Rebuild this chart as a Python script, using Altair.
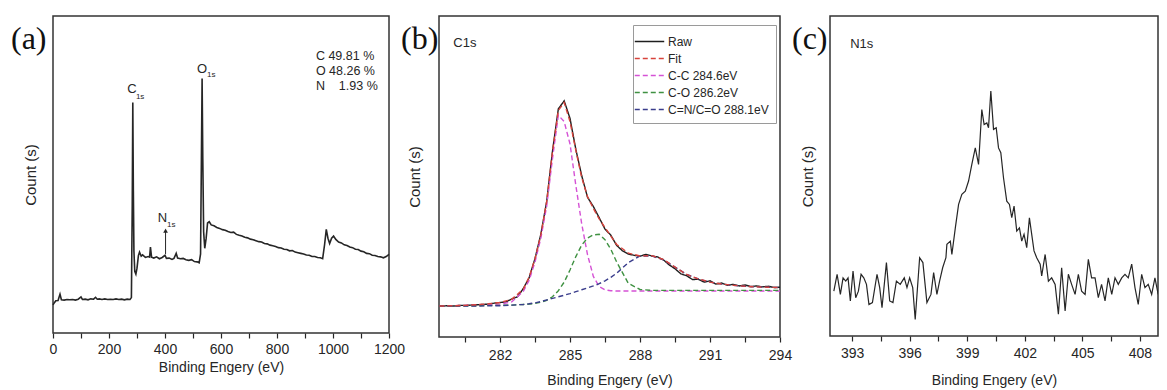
import altair as alt
import pandas as pd

SANS = "Liberation Sans"
SERIF = "Liberation Serif"
INK = "#262626"
NB = "\u00a0"

# ---------------- panel (a): survey spectrum ----------------
a_energy = [0, 5, 10, 18, 25, 30, 40, 50, 60, 70, 80, 90, 100, 105, 115, 125, 135, 145, 152, 158,
            165, 175, 185, 195, 205, 215, 225, 235, 245, 255, 265, 275, 280, 283, 285, 287, 289, 292,
            296, 300, 305, 309, 315, 320, 330, 340, 345, 348, 352, 360, 370, 380, 390, 400, 405, 415,
            425, 432, 440, 445, 455, 465, 475, 485, 495, 505, 515, 522, 527, 530, 532.5, 535, 538, 542,
            547, 552, 558, 565, 575, 585, 595, 605, 615, 625, 635, 645, 655, 665, 675, 685, 695, 705,
            715, 725, 735, 745, 755, 765, 775, 785, 795, 805, 815, 825, 835, 845, 855, 865, 875, 885,
            895, 905, 915, 925, 935, 945, 955, 963, 970, 976, 982, 988, 995, 1002, 1010, 1020, 1030,
            1040, 1050, 1060, 1070, 1080, 1090, 1100, 1110, 1120, 1130, 1140, 1150, 1160, 1170, 1180,
            1190, 1200]
a_counts = [8.9, 9.6, 10.2, 10.3, 12.3, 10.5, 10.4, 10.6, 10.5, 10.6, 10.4, 10.7, 11.4, 10.6, 10.7,
            10.5, 10.8, 10.7, 11.3, 10.7, 10.8, 10.6, 10.8, 10.6, 10.7, 10.6, 10.8, 10.6, 10.7, 10.5,
            10.7, 10.6, 11.2, 40.0, 72.9, 45.0, 26.0, 19.5, 18.6, 20.5, 24.5, 25.6, 24.3, 24.7, 23.9,
            24.2, 24.0, 27.2, 24.0, 23.7, 24.1, 23.5, 23.9, 24.6, 23.6, 23.7, 23.3, 23.6, 25.2, 23.7,
            23.5, 23.6, 23.2, 23.0, 23.2, 22.6, 22.5, 22.2, 25.0, 55.0, 80.5, 55.0, 32.0, 26.8, 30.0,
            34.8, 35.2, 34.2, 33.9, 33.4, 33.1, 32.7, 32.5, 32.1, 31.8, 31.9, 31.2, 30.9, 30.7, 30.3,
            30.1, 29.7, 29.5, 29.2, 28.9, 28.8, 28.3, 28.2, 27.8, 27.6, 27.4, 27.0, 26.9, 26.5, 26.4,
            26.0, 26.1, 25.6, 25.4, 25.2, 25.0, 24.7, 24.6, 24.2, 24.2, 23.9, 23.8, 23.5, 28.0, 32.8,
            30.0, 28.3, 30.0, 30.7, 29.6, 28.8, 28.5, 27.9, 27.7, 27.2, 27.0, 26.5, 26.4, 25.9, 25.7,
            25.2, 25.1, 24.6, 24.5, 24.2, 24.1, 23.8, 24.2, 24.9]
a_peak_text = ["C", "O", "N"]
a_peak_e = [282, 532, 391]
a_peak_v = [77.2, 83.5, 36.4]
a_sub_text = ["1s", "1s", "1s"]
a_sub_e = [296, 550, 407]
a_sub_v = [74.7, 81.6, 34.2]
a_comp_text = ["C 49.81 %", "O 48.26 %", "N" + NB * 4 + "1.93 %"]
a_comp_e = [939, 939, 939]
a_comp_v = [87.7, 82.9, 78.2]
a_arrow_e = [402]
a_arrow_from = [25.0]
a_arrow_to = [32.4]
a_ticks = [0, 100, 200, 300, 400, 500, 600, 700, 800, 900, 1000, 1100, 1200]

# ---------------- panel (b): C1s ----------------
b_raw_e = [279.4, 279.75, 280.0, 280.25, 280.5, 280.75, 281.0, 281.25, 281.5, 281.75, 282.0, 282.25,
           282.5, 282.75, 283.0, 283.25, 283.5, 283.75, 284.0, 284.25, 284.5, 284.75, 285.0, 285.25,
           285.5, 285.75, 286.0, 286.25, 286.5, 286.75, 287.0, 287.25, 287.5, 287.75, 288.0, 288.25,
           288.5, 288.75, 289.0, 289.25, 289.5, 289.75, 290.0, 290.25, 290.5, 290.75, 291.0, 291.25,
           291.5, 291.75, 292.0, 292.25, 292.5, 292.75, 293.0, 293.25, 293.5, 293.75, 294.0]
b_raw = [9.6, 9.8, 9.7, 9.9, 9.9, 10.0, 10.1, 10.2, 10.3, 10.6, 10.8, 11.0, 11.9, 12.6, 15.2, 18.6,
         24.6, 32.2, 42.4, 58.3, 71.5, 74.0, 68.5, 58.8, 50.6, 43.8, 40.9, 37.4, 33.8, 31.9, 28.7,
         27.0, 26.0, 25.6, 25.3, 25.9, 25.4, 25.1, 24.2, 22.6, 21.4, 19.8, 19.2, 18.0, 18.1, 17.2,
         17.6, 16.6, 16.9, 16.2, 16.5, 16.0, 16.3, 15.8, 16.0, 15.7, 15.9, 15.5, 15.6]
b_fit_e = [279.4, 280.0, 280.5, 281.0, 281.5, 282.0, 282.5, 283.0, 283.25, 283.5, 283.75, 284.0,
           284.25, 284.5, 284.75, 285.0, 285.25, 285.5, 285.75, 286.0, 286.25, 286.5, 286.75, 287.0,
           287.5, 288.0, 288.5, 289.0, 289.5, 290.0, 290.5, 291.0, 291.5, 292.0, 292.5, 293.0,
           293.5, 294.0]
b_fit = [9.7, 9.8, 9.9, 10.1, 10.4, 10.8, 11.8, 15.0, 18.8, 24.5, 32.0, 42.5, 58.0, 71.0, 73.5,
         67.5, 58.5, 50.0, 44.0, 40.3, 37.0, 34.3, 31.6, 29.0, 26.3, 25.4, 25.5, 24.3, 21.9, 19.6,
         18.2, 17.2, 16.6, 16.2, 15.9, 15.7, 15.6, 15.5]
b_cc = [9.7, 9.8, 9.9, 10.0, 10.1, 10.3, 11.0, 14.3, 17.8, 23.5, 31.0, 41.0, 56.0, 69.5, 67.5,
        60.5, 47.5, 35.5, 25.8, 19.0, 15.8, 14.8, 14.5, 14.4, 14.4, 14.4, 14.4, 14.4, 14.4, 14.4,
        14.4, 14.4, 14.4, 14.4, 14.4, 14.4, 14.4, 14.4]
b_co = [9.7, 9.7, 9.8, 9.8, 9.9, 9.9, 10.0, 10.2, 10.3, 10.5, 10.9, 11.5, 12.6, 14.5, 17.2, 21.0,
        25.2, 28.8, 31.0, 32.0, 32.2, 30.5, 27.5, 23.5, 16.8, 14.9, 14.6, 14.6, 14.6, 14.6, 14.6,
        14.6, 14.6, 14.6, 14.6, 14.6, 14.6, 14.6]
b_cn = [9.7, 9.7, 9.7, 9.7, 9.8, 9.8, 10.0, 10.2, 10.4, 10.7, 11.1, 11.6, 12.1, 12.6, 13.1, 13.6,
        14.2, 14.8, 15.4, 16.0, 16.7, 17.6, 18.7, 20.0, 23.3, 25.4, 25.4, 24.2, 21.9, 19.6, 18.2,
        17.2, 16.6, 16.2, 15.9, 15.7, 15.6, 15.5]
b_series = ["Raw", "Fit", "C-C 284.6eV", "C-O 286.2eV", "C=N/C=O 288.1eV"]
b_colors = ["#1e1e1e", "#d8433c", "#d552d5", "#3f9142", "#3a3d8c"]
b_dashes = [[1, 0], [5, 3], [5, 3], [5, 3], [5, 3]]
b_ticks = [280.5, 282, 283.5, 285, 286.5, 288, 289.5, 291, 292.5, 294]
b_tag_text = ["C1s"]
b_tag_e = [280.0]
b_tag_v = [92.2]

# ---------------- panel (c): N1s ----------------
c_energy = [392.05, 392.22, 392.39, 392.53, 392.67, 392.79, 392.91, 393.05, 393.19, 393.33, 393.47,
            393.61, 393.75, 393.88, 394.06, 394.30, 394.44, 394.56, 394.79, 394.96, 395.13, 395.31,
            395.51, 395.72, 395.86, 396.00, 396.16, 396.29, 396.52, 396.69, 396.90, 397.11, 397.25,
            397.42, 397.56, 397.72, 397.89, 397.94, 398.12, 398.20, 398.38, 398.55, 398.72, 398.90,
            399.07, 399.24, 399.42, 399.59, 399.76, 399.88, 400.02, 400.11, 400.23, 400.37, 400.51,
            400.63, 400.75, 400.89, 401.06, 401.20, 401.32, 401.44, 401.58, 401.72, 401.84, 401.96,
            402.10, 402.24, 402.36, 402.48, 402.62, 402.80, 402.88, 403.06, 403.23, 403.40, 403.58,
            403.75, 403.92, 404.10, 404.27, 404.44, 404.62, 404.79, 404.96, 405.14, 405.31, 405.48,
            405.66, 405.83, 406.00, 406.18, 406.35, 406.53, 406.70, 406.87, 407.05, 407.22, 407.39,
            407.57, 407.74, 407.91, 408.09, 408.26, 408.43, 408.61, 408.78, 408.95, 409.13, 409.30]
c_counts = [13.8, 19.0, 12.8, 17.9, 16.9, 17.9, 10.8, 20.0, 11.8, 13.8, 19.0, 17.9, 15.9, 9.7, 10.3,
            19.0, 14.9, 8.7, 22.6, 10.8, 10.3, 16.9, 15.9, 17.9, 14.9, 17.9, 14.9, 5.1, 24.1, 22.6,
            10.3, 12.8, 19.5, 12.8, 16.9, 21.0, 24.1, 28.2, 29.2, 25.1, 33.3, 40.5, 43.6, 44.6, 47.7,
            52.8, 57.9, 52.8, 69.7, 65.1, 65.6, 64.1, 75.4, 63.6, 64.1, 57.9, 56.4, 48.7, 41.5, 40.5,
            36.4, 40.0, 32.3, 33.3, 29.2, 31.3, 27.2, 36.4, 31.3, 26.2, 24.1, 22.1, 18.5, 25.1, 16.9,
            17.9, 15.9, 6.7, 21.0, 7.7, 19.0, 15.9, 12.8, 19.0, 13.8, 12.8, 23.6, 17.9, 17.9, 11.8,
            15.9, 10.8, 17.9, 12.8, 17.9, 15.9, 17.9, 19.0, 17.9, 22.1, 14.9, 9.7, 19.0, 14.9, 15.9,
            12.8, 17.9, 12.8, 16.9, 14.9]
c_ticks = [393, 394.5, 396, 397.5, 399, 400.5, 402, 403.5, 405, 406.5, 408]
c_tag_text = ["N1s"]
c_tag_e = [392.9]
c_tag_v = [89.8]

panel_tags = ["(a)", "(b)", "(c)"]


def x_axis(values, expr, label_pad, title_pad, fmt=None):
    kw = dict(values=values, labelExpr=expr, title="Binding Engery (eV)",
              titleFont=SANS, titleFontSize=14, titleFontWeight="normal", titleColor=INK,
              titlePadding=title_pad, labelFont=SANS, labelFontSize=14, labelColor=INK,
              labelPadding=label_pad, labelFlush=False, labelOverlap=False,
              tickSize=5, tickColor=INK, tickWidth=1.2, domain=False, grid=False)
    if fmt:
        kw["format"] = fmt
    return alt.Axis(**kw)


def y_axis(pad):
    return alt.Axis(title="Count (s)", labels=False, ticks=False, domain=False, grid=False,
                    titleFont=SANS, titleFontSize=15, titleFontWeight="normal", titleColor=INK,
                    titlePadding=pad)


def tag_layer(label, dx):
    return alt.Chart(pd.DataFrame({"t": [label]})).mark_text(
        font=SERIF, fontSize=32, align="left", baseline="middle", color="#111"
    ).encode(x=alt.value(dx), y=alt.value(23), text="t:N")


# ---- panel a
df_a = pd.DataFrame({"e": a_energy, "v": a_counts})
xa = alt.X("e:Q", scale=alt.Scale(domain=[0, 1200], nice=False, zero=False),
           axis=x_axis(a_ticks, "datum.value % 200 == 0 ? datum.label : ''", 4, 4, "d"))
ya = alt.Y("v:Q", scale=alt.Scale(domain=[0, 100.3], nice=False, zero=False), axis=y_axis(15))

line_a = alt.Chart(df_a).mark_line(color=INK, strokeWidth=1.6).encode(x=xa, y=ya)
peak_a = alt.Chart(pd.DataFrame({"e": a_peak_e, "v": a_peak_v, "t": a_peak_text})).mark_text(
    font=SANS, fontSize=13, color=INK, align="center", baseline="middle").encode(x=xa, y=ya, text="t:N")
sub_a = alt.Chart(pd.DataFrame({"e": a_sub_e, "v": a_sub_v, "t": a_sub_text})).mark_text(
    font=SANS, fontSize=8, color=INK, align="left", baseline="middle").encode(x=xa, y=ya, text="t:N")
comp_a = alt.Chart(pd.DataFrame({"e": a_comp_e, "v": a_comp_v, "t": a_comp_text})).mark_text(
    font=SANS, fontSize=12.5, color=INK, align="left", baseline="middle").encode(x=xa, y=ya, text="t:N")
arrow_df = pd.DataFrame({"e": a_arrow_e, "v": a_arrow_from, "v2": a_arrow_to})
arrow_line = alt.Chart(arrow_df).mark_rule(color=INK, strokeWidth=1).encode(x=xa, y=ya, y2="v2:Q")
arrow_head = alt.Chart(pd.DataFrame({"e": a_arrow_e, "v": a_arrow_to})).mark_point(
    shape="triangle-up", filled=True, size=22, color=INK, opacity=1).encode(x=xa, y=ya)

panel_a = alt.layer(line_a, arrow_line, arrow_head, peak_a, sub_a, comp_a,
                    tag_layer(panel_tags[0], -42)).properties(width=336, height=317)

# ---- panel b
rows = []
for e, v in zip(b_raw_e, b_raw):
    rows.append({"e": e, "v": v, "s": b_series[0]})
for name, vals in [(b_series[2], b_cc), (b_series[3], b_co), (b_series[4], b_cn), (b_series[1], b_fit)]:
    for e, v in zip(b_fit_e, vals):
        rows.append({"e": e, "v": v, "s": name})
df_b = pd.DataFrame(rows)

xb = alt.X("e:Q", scale=alt.Scale(domain=[279.385, 294], nice=False, zero=False),
           axis=x_axis(b_ticks, "abs((datum.value - 282) % 3) < 0.01 ? datum.label : ''", 6, 11))
yb = alt.Y("v:Q", scale=alt.Scale(domain=[0, 100.6], nice=False, zero=False), axis=y_axis(17))

legend_b = alt.Legend(title=None, orient="none", legendX=194, legendY=9,
                      symbolType="M-1.7,0H1.7", symbolSize=300, symbolStrokeWidth=1.5,
                      labelFont=SANS, labelFontSize=12, labelColor=INK, labelOffset=9,
                      rowPadding=1.0, padding=7, strokeColor="#9a9a9a", fillColor="white",
                      cornerRadius=0)
lines_b = alt.Chart(df_b).mark_line(strokeWidth=1.4).encode(
    x=xb, y=yb,
    color=alt.Color("s:N", scale=alt.Scale(domain=b_series, range=b_colors), legend=legend_b),
    strokeDash=alt.StrokeDash("s:N", scale=alt.Scale(domain=b_series, range=b_dashes), legend=legend_b),
)
tag_b = alt.Chart(pd.DataFrame({"e": b_tag_e, "v": b_tag_v, "t": b_tag_text})).mark_text(
    font=SANS, fontSize=13, color=INK, align="left", baseline="middle").encode(x=xb, y=yb, text="t:N")

panel_b = alt.layer(lines_b, tag_b, tag_layer(panel_tags[1], -38)).properties(width=341, height=321)

# ---- panel c
df_c = pd.DataFrame({"e": c_energy, "v": c_counts})
xc = alt.X("e:Q", scale=alt.Scale(domain=[391.85, 408.94], nice=False, zero=False),
           axis=x_axis(c_ticks, "abs((datum.value - 393) % 3) < 0.01 ? datum.label : ''", 5, 13))
yc = alt.Y("v:Q", scale=alt.Scale(domain=[0, 98.5], nice=False, zero=False), axis=y_axis(15))
line_c = alt.Chart(df_c).mark_line(color=INK, strokeWidth=1.2, clip=True).encode(x=xc, y=yc)
tag_c = alt.Chart(pd.DataFrame({"e": c_tag_e, "v": c_tag_v, "t": c_tag_text})).mark_text(
    font=SANS, fontSize=13, color=INK, align="left", baseline="middle").encode(x=xc, y=yc, text="t:N")

panel_c = alt.layer(line_c, tag_c, tag_layer(panel_tags[2], -38)).properties(width=328, height=320)

chart = alt.hconcat(panel_a, panel_b, panel_c, spacing=50, bounds="flush").resolve_scale(
    x="independent", y="independent", color="independent", strokeDash="independent"
).properties(
    padding={"left": 2, "top": 7, "right": 0, "bottom": 2}, background="white"
).configure_view(stroke="#333333", strokeWidth=1.5)

chart.save("out.html", embed_options={"renderer": "svg", "actions": False})
